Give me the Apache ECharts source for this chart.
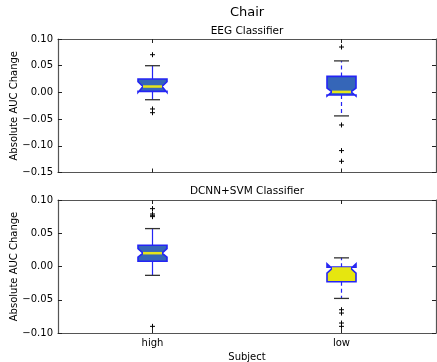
<!DOCTYPE html>
<html><head><meta charset="utf-8">
<script src="https://cdn.jsdelivr.net/npm/echarts@6/dist/echarts.min.js"></script>
<style>html,body{margin:0;padding:0;background:#fff}#c{width:437px;height:362px}</style>
</head><body><div id="c"></div>
<script>
// ---- data ----
const categories = ['high', 'low'];
const yTicksTop = [-0.15, -0.10, -0.05, 0.00, 0.05, 0.10];
const yTicksBottom = [-0.10, -0.05, 0.00, 0.05, 0.10];

// EEG Classifier: [high, low]
const eegWhiskerLow  = [-0.0137, -0.044];
const eegQ1          = [0.002, -0.005];
const eegMedian      = [0.011, 0.001];
const eegQ3          = [0.025, 0.030];
const eegWhiskerHigh = [0.050, 0.059];
const eegNotchLow    = [0.000, -0.007];
const eegNotchHigh   = [0.020, 0.008];
const eegFliersHigh  = [0.0706, -0.031, -0.038];
const eegFliersLow   = [0.085, -0.061, -0.109, -0.129];

// DCNN+SVM Classifier: [high, low]
const dcnnWhiskerLow  = [-0.0133, -0.048];
const dcnnQ1          = [0.008, -0.023];
const dcnnMedian      = [0.020, -0.003];
const dcnnQ3          = [0.032, -0.001];
const dcnnWhiskerHigh = [0.057, 0.013];
const dcnnNotchLow    = [0.014, -0.010];
const dcnnNotchHigh   = [0.027, 0.004];
const dcnnFliersHigh  = [0.087, 0.079, 0.077, 0.075, -0.090];
const dcnnFliersLow   = [-0.065, -0.070, -0.085, -0.090];

// ---- build ----
function boxData(wl, q1, md, q3, wh, nl, nh) {
  return categories.map((c, i) => [i, wl[i], q1[i], md[i], q3[i], wh[i], nl[i], nh[i]]);
}
function flierData(hi, lo) {
  return hi.map(v => [0, v]).concat(lo.map(v => [1, v]));
}
const FONT = 'DejaVu Sans';
const BLUE = '#2424f5';
function boxRenderer(fills, dashed) {
  return function (params, api) {
    const c = api.value(0);
    const P = v => api.coord([c, v]);
    const cx = P(api.value(3))[0];
    const Y = i => P(api.value(i))[1];
    const wlo = Y(1), q1 = Y(2), med = Y(3), q3 = Y(4), whi = Y(5), nlo = Y(6), nhi = Y(7);
    const hw = 14.5, nw = 9.5, cw = 7.5;
    const wStyle = { stroke: BLUE, lineWidth: 1.2 };
    if (dashed[c]) wStyle.lineDash = [4, 3];
    return {
      type: 'group', children: [
        { type: 'line', shape: { x1: cx, y1: q3, x2: cx, y2: whi }, style: Object.assign({}, wStyle) },
        { type: 'line', shape: { x1: cx, y1: q1, x2: cx, y2: wlo }, style: Object.assign({}, wStyle) },
        { type: 'line', shape: { x1: cx - cw, y1: whi, x2: cx + cw, y2: whi }, style: { stroke: '#333', lineWidth: 1.3 } },
        { type: 'line', shape: { x1: cx - cw, y1: wlo, x2: cx + cw, y2: wlo }, style: { stroke: '#333', lineWidth: 1.3 } },
        { type: 'polygon', shape: { points: [
          [cx - hw, q1], [cx + hw, q1], [cx + hw, nlo], [cx + nw, med], [cx + hw, nhi], [cx + hw, q3],
          [cx - hw, q3], [cx - hw, nhi], [cx - nw, med], [cx - hw, nlo]] },
          style: { fill: fills[c], stroke: BLUE, lineWidth: 1.6 } },
        { type: 'line', shape: { x1: cx - nw, y1: med, x2: cx + nw, y2: med }, style: { stroke: '#e6e61a', lineWidth: 2.5 } }
      ]
    };
  };
}
function flierRenderer(params, api) {
  const p = api.coord([api.value(0), api.value(1)]);
  const s = 2.5;
  return { type: 'group', children: [
    { type: 'line', shape: { x1: p[0] - s, y1: p[1], x2: p[0] + s, y2: p[1] }, style: { stroke: '#000', lineWidth: 1 } },
    { type: 'line', shape: { x1: p[0], y1: p[1] - s, x2: p[0], y2: p[1] + s }, style: { stroke: '#000', lineWidth: 1 } }
  ] };
}
const fmt = v => (Math.abs(v) < 1e-9 ? 0 : v).toFixed(2).replace('-', '\u2212');
const lineC = '#555';
function xAx(grid, pos, labels, name) {
  return {
    type: 'category', data: categories, gridIndex: grid, position: pos, boundaryGap: true,
    axisLine: { show: true, onZero: false, lineStyle: { color: lineC, width: 1.2 } },
    axisTick: { show: true, inside: true, alignWithLabel: true, length: 4, lineStyle: { color: '#222' } },
    axisLabel: { show: labels, color: '#000', fontSize: 10, fontFamily: FONT, margin: 5 },
    splitLine: { show: false },
    name: name || '', nameLocation: 'middle', nameGap: 19, nameMoveOverlap: false,
    nameTextStyle: { color: '#000', fontSize: 10, fontFamily: FONT }
  };
}
function yAx(grid, pos, ticks, labels) {
  return {
    type: 'value', gridIndex: grid, position: pos,
    min: ticks[0], max: ticks[ticks.length - 1], interval: 0.05,
    axisLine: { show: true, onZero: false, lineStyle: { color: lineC, width: 1.2 } },
    axisTick: { show: true, inside: true, length: 4, lineStyle: { color: '#222' } },
    axisLabel: { show: labels, formatter: fmt, color: '#000', fontSize: 10, fontFamily: FONT, margin: 5 },
    splitLine: { show: false },
    name: labels ? 'Absolute AUC Change' : '', nameLocation: 'middle', nameGap: 39, nameMoveOverlap: false,
    nameTextStyle: { color: '#000', fontSize: 10, fontFamily: FONT }
  };
}
const blueFill = '#3566b8', yellowFill = '#e6e60f';
const option = {
  animation: false,
  backgroundColor: '#fff',
  grid: [
    { left: 58, top: 39, width: 378, height: 133.5, containLabel: false, outerBoundsMode: 'none' },
    { left: 58, top: 200, width: 378, height: 133, containLabel: false, outerBoundsMode: 'none' }
  ],
  xAxis: [xAx(0, 'bottom', false), xAx(0, 'top', false), xAx(1, 'bottom', true, 'Subject'), xAx(1, 'top', false)],
  yAxis: [yAx(0, 'left', yTicksTop, true), yAx(0, 'right', yTicksTop, false), yAx(1, 'left', yTicksBottom, true), yAx(1, 'right', yTicksBottom, false)],
  graphic: [
    { type: 'text', x: 247, y: 13, style: { text: 'Chair', fill: '#000', font: '13px "DejaVu Sans"', textAlign: 'center', textVerticalAlign: 'middle' } },
    { type: 'text', x: 247, y: 31, style: { text: 'EEG Classifier', fill: '#000', font: '10.5px "DejaVu Sans"', textAlign: 'center', textVerticalAlign: 'middle' } },
    { type: 'text', x: 247, y: 191, style: { text: 'DCNN+SVM Classifier', fill: '#000', font: '10.5px "DejaVu Sans"', textAlign: 'center', textVerticalAlign: 'middle' } }
  ],
  series: [
    { type: 'custom', xAxisIndex: 0, yAxisIndex: 0, renderItem: boxRenderer([blueFill, blueFill], [false, true]),
      encode: { x: 0, y: [1, 2, 3, 4, 5, 6, 7] },
      data: boxData(eegWhiskerLow, eegQ1, eegMedian, eegQ3, eegWhiskerHigh, eegNotchLow, eegNotchHigh) },
    { type: 'custom', xAxisIndex: 0, yAxisIndex: 0, renderItem: flierRenderer, encode: { x: 0, y: 1 },
      data: flierData(eegFliersHigh, eegFliersLow) },
    { type: 'custom', xAxisIndex: 2, yAxisIndex: 2, renderItem: boxRenderer([blueFill, yellowFill], [false, true]),
      encode: { x: 0, y: [1, 2, 3, 4, 5, 6, 7] },
      data: boxData(dcnnWhiskerLow, dcnnQ1, dcnnMedian, dcnnQ3, dcnnWhiskerHigh, dcnnNotchLow, dcnnNotchHigh) },
    { type: 'custom', xAxisIndex: 2, yAxisIndex: 2, renderItem: flierRenderer, encode: { x: 0, y: 1 },
      data: flierData(dcnnFliersHigh, dcnnFliersLow) }
  ]
};
echarts.init(document.getElementById('c'), null, { renderer: 'canvas' }).setOption(option);
</script></body></html>
